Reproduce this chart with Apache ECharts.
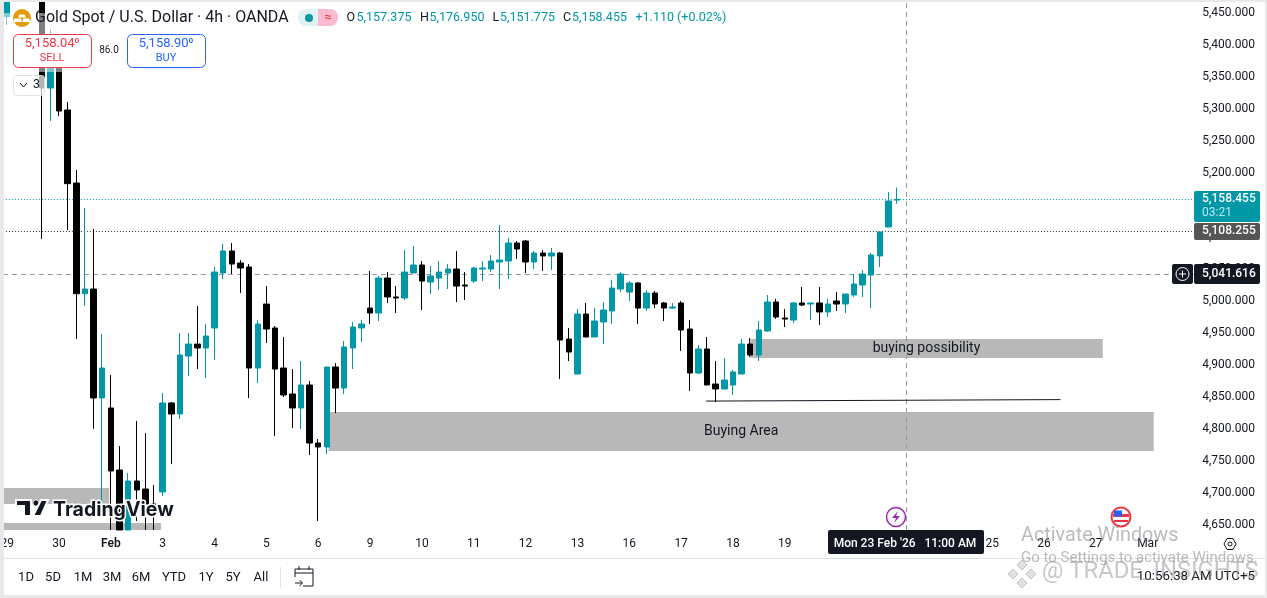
<!DOCTYPE html>
<html><head><meta charset="utf-8">
<style>html,body{margin:0;padding:0;background:#fff;overflow:hidden}#c{width:1267px;height:598px}</style>
<script src="https://cdn.jsdelivr.net/npm/echarts@6/dist/echarts.min.js"></script>
</head><body><div id="c"></div>
<script>
const dayLabels = {0:'29',6:'30',12:'Feb',18:'3',24:'4',30:'5',36:'6',42:'9',48:'10',54:'11',60:'12',66:'13',72:'16',78:'17',84:'18',90:'19',96:'20',102:'23',108:'24',114:'25',120:'26',126:'27',132:'Mar'};
const priceTicks = [4650,4700,4750,4800,4850,4900,4950,5000,5050,5100,5150,5200,5250,5300,5350,5400,5450];
const opens = [5444.2,null,null,null,5490,5332.7,5365.5,5298.3,5184.1,5011,5018.3,4848,4832.3,4735.3,4641.5,4718.1,4705.6,4682.2,4701,4840.1,4822.9,4913.6,4932.3,4926.1,4957.4,5043.4,5077.8,5059,5052.8,4894.8,4994.9,4957.4,4894.8,4854.2,4832.3,4868.2,4777.5,4771.3,4896.4,4863.5,4926.1,4957.4,4988.6,4980.8,5035.5,5005.9,5004.3,5043.4,5055.9,5029.3,5035.5,5043.4,5049.6,5024.6,5030.8,5049.6,5049.6,5060.6,5062.1,5090.3,5093.4,5060.6,5074.6,5070,5074.6,4940.2,4885.4,4979.2,4943.3,4966.8,4984,5018.3,5013.6,5027.7,4988.6,5012.1,4996.5,4988.6,4996.5,4955.8,4887,4924.5,4869.8,4862,4868.2,4885.4,4932.3,4915.1,4952.7,4998,4973,4969.9,4996.5,4994.9,4996.5,4982.4,4999.6,4994.9,5009,5024.6,5040.2,5070,5115.3,5157.375];
const closes = [5480,null,null,null,5332.7,5365.5,5296.7,5183,5011,5018.3,4848,4894.8,4733.8,4641.5,4718.1,4704.1,4682.2,4679.1,4840.1,4822.9,4915.1,4932.3,4926.1,4944.9,5044.9,5077.8,5057.4,5051.2,4894.8,4963.6,4955.8,4893.2,4852.6,4832.3,4868.2,4777.5,4771.3,4896.4,4863.5,4927.7,4958.9,4963.6,4980.8,5035.5,5005.9,5004.3,5044.9,5055.9,5030.8,5038.7,5044.9,5049.6,5023,5023,5051.2,5051.2,5062.1,5063.7,5090.3,5080.9,5060.6,5074.6,5070,5074.6,4938.6,4919.8,4979.2,4943.3,4968.3,4985.5,5019.9,5041.8,5027.7,4988.6,5012.1,4994.9,4988.6,4990.2,4954.2,4887,4924.5,4868.2,4862,4876,4888.6,4932.3,4915.1,4954.2,4998,4974.6,4971.4,4996.5,4993.3,4996.5,4982.4,4994.9,4994.9,5010.5,5026.2,5041.8,5071.5,5107.5,5156,5158.455];
const lows = [5431.2,null,null,null,5096.5,5281.1,5288.9,5110.6,4940.2,4991.8,4799.9,4682.2,4641.5,4641.5,4641.5,4655.6,4641.5,4641.5,4694.7,4744.7,4815.1,4882.3,4893.2,4879.2,4907.3,5034,5041.8,5012.1,4847.9,4871.3,4933.9,4788.5,4849.5,4801,4799.4,4758.8,4655.6,4760.3,4824.4,4854.2,4893.2,4935.5,4963.6,4968.3,4996.5,4980.8,5001.1,5043.4,4985.5,5010.5,5016.8,5018.3,4998,5001.1,5027.7,5030.8,5044.9,5018.3,5034,5065.3,5043.4,5049.6,5046.5,5048,4877.6,4905.8,4885.4,4943.3,4943.3,4932.3,4963.6,5013.6,4999.6,4963.6,4984,4988.6,4968.3,4987.1,4921.4,4858.8,4885.4,4868.2,4841.6,4862,4852.6,4885.4,4912,4905.8,4951.1,4971.4,4958.9,4965.2,4991.8,4969.9,4962,4974.6,4984,4980.8,5005.9,5005.9,4988.6,5052.8,5115.3,5151.775];
const highs = [5500,null,null,null,5510,5423.4,5417.2,5310.8,5204.5,5145,5112.2,4948,4883.9,4772.8,4730.6,4812,4793.2,4711.9,4855.7,4841.6,4949.5,4949.5,4991.8,4963.6,5052.8,5088.7,5090.3,5063.7,5057.4,4969.9,5023,4960.5,4943.3,4893.2,4905.8,4874.5,4783.8,4896.4,4902.6,4937,4966.8,4969.9,5046.5,5038.7,5044.9,5023,5079.3,5085.6,5062.1,5054.3,5062.1,5057.4,5077.8,5044.9,5052.8,5062.1,5071.5,5118.4,5098.1,5093.4,5095,5077.8,5079.3,5082.5,5076.2,4957.4,4987.1,4996.5,4988.6,4998,5032.4,5044.9,5030.8,5029.3,5016.8,5015.2,4998,4996.5,4999.6,4969.9,4930.8,4943.3,4905.8,4910.5,4891.7,4940.2,4941.7,4968.3,5009,5003,4987.1,4998,5021.5,4996.5,5021.5,5003,5013.6,5010.5,5041.8,5048,5074.6,5107.5,5170,5176.95];
const currentPrice = 5158.455, prevClose = 5108.255, crossPrice = 5041.616, crossBar = 104;
const buyingArea = {name:'Buying Area', from:[37.2,4825.9], to:[132.7,4765]};
const buyingPossibility = {name:'buying possibility', from:[86,4940.2], to:[126.8,4910.5]};
const oldZones = [{name:'', from:[-0.5,4707.1], to:[11.8,4682.1]},{name:'', from:[-0.5,4652.4], to:[17.8,4641.5]}];
const trend = [[80.9,4843.1],[121.9,4845.4]];

const TEAL='#0097A7', INK='#131722', UI='Roboto, sans-serif';
const categories = Array.from({length:138},(_,i)=>dayLabels[i]||'');
const candles = opens.map((o,i)=> o===null ? ['-','-','-','-'] : [o,closes[i],lows[i],highs[i]]);

const T=(x,y,text,o={})=>({type:'text',x,y,z:o.z||100,silent:true,style:Object.assign({text,fill:INK,font:`${o.w||400} ${o.s||12}px ${o.f||UI}`,verticalAlign:'middle',align:o.a||'left'},o.st||{})});
const R=(x,y,w,h,fill,o={})=>({type:'rect',x,y,z:o.z||100,silent:true,shape:{x:0,y:0,width:w,height:h,r:o.r||0},style:{fill,stroke:o.stroke||null,lineWidth:o.lw||1}});
const P=(points,fill,o={})=>({type:'polygon',z:o.z||100,silent:true,shape:{points},style:{fill,stroke:o.stroke||null,lineWidth:o.lw||1}});
const L=(points,stroke,o={})=>({type:'polyline',z:o.z||101,silent:true,shape:{points},style:{stroke,fill:null,lineWidth:o.lw||1}});
const C=(cx,cy,r,fill,o={})=>({type:'circle',z:o.z||100,silent:true,shape:{cx,cy,r},style:{fill,stroke:o.stroke||null,lineWidth:o.lw||1}});
const rangeBtns=[['1D',26],['5D',53],['1M',83],['3M',112],['6M',141],['YTD',174],['1Y',206],['5Y',233],['All',261]];
const legend=[['O',346.5,INK],['5,157.375',356.5,TEAL],['H',420,INK],['5,176.950',429.5,TEAL],['L',492.5,INK],['5,151.775',500,TEAL],['C',563,INK],['5,158.455',572,TEAL],['+1.110 (+0.02%)',635.5,TEAL]];

const graphic=[
  // TradingView logo with white halo
  P([[16,500],[31,500],[31,516],[24,516],[24,506],[16,506]],'#131722',{z:90,stroke:'#fff',lw:2}),
  C(36,503,3.2,'#131722',{z:90,stroke:'#fff'}),
  P([[41,500],[48,500],[41,516],[33,516]],'#131722',{z:90,stroke:'#fff',lw:2}),
  T(53,510,'TradingView',{z:90,s:19.5,w:700,f:'Inter, sans-serif',st:{stroke:'#fff',lineWidth:3}}),
  // events
  C(896,517,9.5,'#fff',{z:95,stroke:'#9C27B0',lw:1.5}),
  P([[898,511],[892,518],[896,518],[894,523],[900,516],[896,516]],'#9C27B0',{z:96}),
  C(1121,517,9.5,'#fff',{z:95,stroke:'#F23645',lw:2}),
  R(1113,514,16,3,'#F23645',{z:96}),R(1114,520,14,2,'#F23645',{z:96}),R(1114,510.5,8,6,'#2962FF',{z:96}),
  // date tag
  R(828,530,156,24,'#131722',{r:2,z:98}),
  T(905,544,"Mon 23 Feb '26   11:00 AM",{z:99,a:'center',w:500,st:{fill:'#fff'}}),
  // price tags
  R(1194,191,66,31,TEAL,{r:2}),
  T(1202,199,'5,158.455',{w:500,st:{fill:'#fff'}}),
  T(1202,213,'03:21',{st:{fill:'#B2EBF2'}}),
  R(1194,223,66,17,'#555555',{r:2}),
  T(1202,231,'5,108.255',{w:500,st:{fill:'#fff'}}),
  R(1172,264,21,20,'#131722',{r:2}),
  C(1182.5,274,6.5,null,{z:101,stroke:'#fff'}),
  L([[1182.5,270.5],[1182.5,277.5]],'#fff'),L([[1179,274],[1186,274]],'#fff'),
  R(1194,264,66,20,'#131722',{r:2}),
  T(1202,274,'5,041.616',{w:500,st:{fill:'#fff'}}),
  // chart header
  R(4,13,204,59,'rgba(255,255,255,0.5)',{z:99}),
  C(22,18,9,'#E09C0B'),
  P([[19.5,14.5],[24.5,14.5],[26,17.5],[18,17.5]],'#fff',{z:101}),
  P([[14.5,18.5],[21,18.5],[22,22],[13.5,22]],'#fff',{z:101}),
  P([[23,18.5],[29,18.5],[30.5,22],[22.5,22]],'#fff',{z:101}),
  T(35,18,'Gold Spot / U.S. Dollar · 4h · OANDA',{s:16}),
  R(298,9,28,17,'#DFF3F5',{r:8}),
  R(318,9,20,17,'#F8BBD0',{r:[0,8,8,0],z:101}),
  C(309,18,4,TEAL,{z:101}),
  T(328,18,'≈',{a:'center',s:13,st:{fill:'#F23645'},z:102}),
  ...legend.map(([t,x,c])=>T(x,18,t,{s:12.5,st:{fill:c}})),
  // order buttons
  R(13.5,34.5,78,33,'#fff',{r:5,stroke:'#F23645'}),
  T(52,44,'5,158.04⁰',{a:'center',s:13,st:{fill:'#F23645'}}),
  T(52,58,'SELL',{a:'center',s:11,st:{fill:'#F23645'}}),
  T(109,50,'86.0',{a:'center',s:10}),
  R(127.5,34.5,78,33,'#fff',{r:5,stroke:'#2962FF'}),
  T(166,44,'5,158.90⁰',{a:'center',s:13,st:{fill:'#2962FF'}}),
  T(166,58,'BUY',{a:'center',s:11,st:{fill:'#2962FF'}}),
  R(13.5,75.5,31,20,'rgba(255,255,255,0.7)',{r:3,stroke:'#E0E3EB'}),
  L([[20,83],[23.5,87],[27,83]],INK),
  T(33,85,'3',{s:12.5}),
  // settings hexagon
  P([[1224,544],[1227,538.5],[1233,538.5],[1236,544],[1233,549.5],[1227,549.5]],null,{stroke:INK}),
  C(1230,544,2,null,{stroke:INK}),
  // toolbar
  R(4,558,1261,1,'#E0E3EB'),
  ...rangeBtns.map(([t,x])=>T(x,578,t,{a:'center',s:13})),
  R(280,567,1,21,'#E0E3EB'),
  L([[303,586],[313,586],[313,569],[295,569],[295,577]],INK),
  L([[295,573],[313,573]],INK),L([[299,566],[299,570]],INK),L([[309,566],[309,570]],INK),
  L([[295,583],[302,583]],INK),L([[299.5,580],[302.5,583],[299.5,586]],INK),
  T(1255,577,'10:56:38 AM UTC+5',{a:'right',s:13.3}),
  // OS + creator watermarks
  T(1021,536,'Activate Windows',{z:110,s:19.8,st:{fill:'rgba(120,120,120,0.5)'}}),
  T(1021,558,'Go to Settings to activate Windows.',{z:110,s:15,st:{fill:'rgba(120,120,120,0.5)'}}),
  P([[1022,560],[1027,565],[1022,570],[1017,565]],'rgba(170,170,170,0.35)',{z:110,stroke:'rgba(150,150,150,0.5)'}),
  P([[1013,569],[1018,574],[1013,579],[1008,574]],'rgba(170,170,170,0.35)',{z:110,stroke:'rgba(150,150,150,0.5)'}),
  P([[1031,569],[1036,574],[1031,579],[1026,574]],'rgba(170,170,170,0.35)',{z:110,stroke:'rgba(150,150,150,0.5)'}),
  P([[1022,578],[1027,583],[1022,588],[1017,583]],'rgba(170,170,170,0.35)',{z:110,stroke:'rgba(150,150,150,0.5)'}),
  T(1042,572,'@ TRADE_INSIGHTS',{z:110,s:23.8,st:{fill:'rgba(130,130,130,0.45)'}}),
  // window frame
  R(0,0,1267,2,'#E9E9E9',{z:120}),R(0,0,4,598,'#E9E9E9',{z:120}),R(1265,0,2,598,'#E9E9E9',{z:120}),R(0,595,1267,3,'#E9E9E9',{z:120})
];

const area=a=>[{name:a.name,xAxis:a.from[0],yAxis:a.from[1]},{xAxis:a.to[0],yAxis:a.to[1]}];
const chart=echarts.init(document.getElementById('c'),null,{renderer:'canvas',width:1267,height:598});
chart.setOption({
  animation:false,backgroundColor:'#fff',
  grid:{left:2.88,right:71.8,top:3,height:527,containLabel:false,outerBoundsMode:'none'},
  xAxis:[
    {type:'category',data:categories,boundaryGap:true,axisLine:{show:false},axisTick:{show:false},splitLine:{show:false},
     axisLabel:{interval:0,hideOverlap:false,margin:8,fontSize:12,fontFamily:'Roboto',color:INK,
       formatter:v=>v==='Feb'?'{b|Feb}':v,rich:{b:{fontWeight:600,fontSize:12,fontFamily:'Roboto',color:INK}}}},
    {type:'value',min:-0.5,max:137.5,show:false}
  ],
  yAxis:{type:'value',position:'right',min:4641.5,max:5465.6,axisLine:{show:false},axisTick:{show:false},splitLine:{show:false},
    axisLabel:{customValues:priceTicks,margin:7,fontSize:12,fontFamily:'Roboto',color:INK,align:'left',
      formatter:v=>v.toLocaleString('en-US',{minimumFractionDigits:3,maximumFractionDigits:3})}},
  series:[
    {type:'line',name:'annotations',xAxisIndex:1,yAxisIndex:0,data:[],z:1,silent:true,symbol:'none',
     markArea:{silent:true,z:1,itemStyle:{color:'#B8B8B8',opacity:1},
       label:{show:true,position:'inside',color:INK,fontSize:14,fontFamily:UI},
       data:[area(buyingArea),area(buyingPossibility),area(oldZones[0]),area(oldZones[1])]},
     markLine:{silent:true,symbol:'none',animation:false,label:{show:false},z:2,
       data:[
         {yAxis:currentPrice,lineStyle:{type:[1,2],color:TEAL,width:1}},
         {yAxis:prevClose,lineStyle:{type:[1,2],color:'#333',width:1}},
         {yAxis:crossPrice,lineStyle:{type:[5,4],color:'#9598A1',width:1}},
         {xAxis:crossBar,lineStyle:{type:[5,4],color:'#9598A1',width:1}},
         [{coord:trend[0],lineStyle:{type:'solid',color:'#131722',width:1}},{coord:trend[1]}]
       ]}},
    {type:'candlestick',name:'XAUUSD',data:candles,barWidth:6,z:3,clip:true,
     itemStyle:{color:TEAL,color0:'#000',borderColor:TEAL,borderColor0:'#000',borderWidth:1}}
  ],
  graphic:{elements:graphic}
});
</script></body></html>
